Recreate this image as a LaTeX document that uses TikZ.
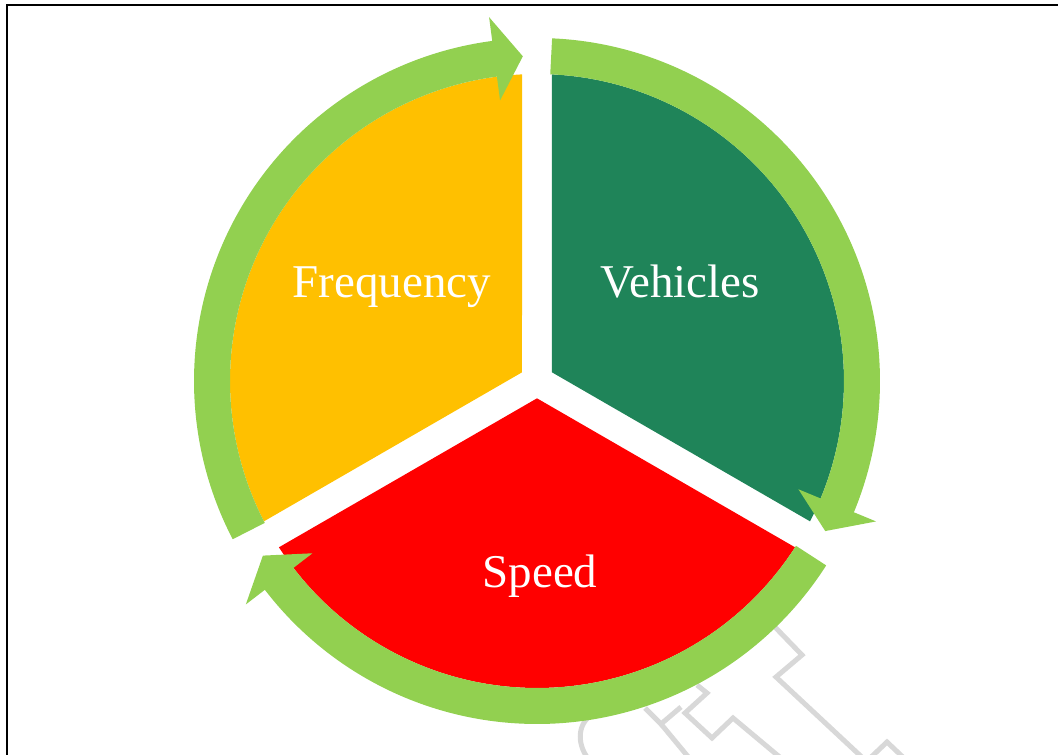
\documentclass[tikz,border=0pt]{standalone}
\usepackage{fontspec}
\setmainfont{Liberation Serif}

\definecolor{ringgreen}{HTML}{92D050}
\definecolor{slicegreen}{HTML}{1F8459}
\definecolor{sliceyellow}{HTML}{FFC000}
\definecolor{slicered}{HTML}{FF0000}
\definecolor{wmark}{RGB}{216,216,216}

\begin{document}
\begin{tikzpicture}[
    x=1pt, y=1pt,
    ringarc/.style={draw=ringgreen, line width=36pt},
    ringtip/.style={fill=ringgreen},
    slicetext/.style={text=white, font=\fontsize{47}{50}\selectfont, anchor=base},
    wm/.style={draw=wmark, line width=5pt, line join=miter}
    ]
    \useasboundingbox (-537,-374) rectangle (521,381);

    %% Frame
    \draw[line width=2.5pt] (-530,-380) -- (-530,376) -- (530,376);

    %% Faint stamp behind the cycle
    \draw[wm] (236,-244) -- (265,-274) -- (239,-296) -- (329,-380);
    \draw[wm] (330,-380) -- (350,-361) -- (370,-380);
    \draw[wm] (160,-304) -- (170,-312) -- (148,-332) -- (175,-357) -- (196,-337) -- (245,-378);
    \draw[wm] (108,-327) -- (124,-343) -- (144,-326);
    \draw[wm] (124,-343) -- (153,-378);
    \draw[wm] (53,-335) .. controls (40,-345) and (40,-365) .. (53,-380);

    %% Slices (gap 30 between them)
    \fill[sliceyellow] (150:17.32) -- (92.8:307) arc[start angle=92.8, end angle=207.2, radius=307] -- cycle;
    \fill[slicegreen] (30:17.32) -- (87.2:307) arc[start angle=87.2, end angle=-27.2, radius=307] -- cycle;
    \fill[slicered] (270:17.32) -- (-32.8:307) arc[start angle=-32.8, end angle=-147.2, radius=307] -- cycle;

    %% Clockwise arrows round the slices
    \foreach \a in {90,-30,210} {
        \draw[ringarc] (\a-2.5:325) arc[start angle=\a-2.5, delta angle=-111.5, radius=325];
        \fill[ringtip] (\a-112.5:283) -- (\a-117.5:325) -- (\a-112.5:367) -- cycle;
    }

    %% Labels
    \node[slicetext] (freq) at (-145,83) {Frequency};
    \node[slicetext] (veh) at (143,83) {Vehicles};
    \node[slicetext] (speed) at (3,-206) {Speed};
\end{tikzpicture}
\end{document}
